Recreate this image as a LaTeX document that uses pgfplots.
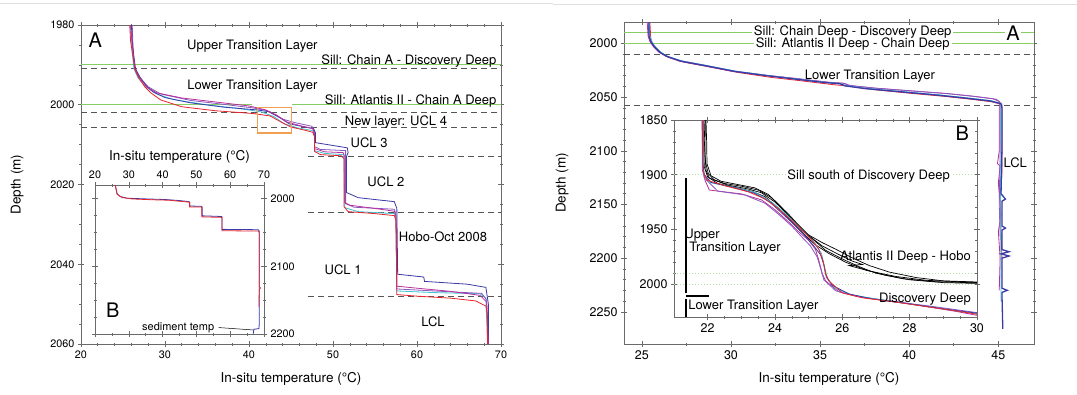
\documentclass[border=0pt]{standalone}
\usepackage{fontspec}
\setmainfont{TeX Gyre Heros}
\usepackage{pgfplots}
\pgfplotsset{compat=1.18}
\definecolor{cred}{HTML}{E8242C}
\definecolor{cblue}{HTML}{3A3AA8}
\definecolor{cmag}{HTML}{B8309C}
\definecolor{ccyan}{HTML}{40C4D4}
\definecolor{cpurp}{HTML}{8A58C0}
\definecolor{sillgreen}{HTML}{88CC66}
\definecolor{dotgreen}{HTML}{B8DDA0}
\definecolor{boxorange}{HTML}{F0A050}
\definecolor{framegray}{HTML}{6A6A6A}
\definecolor{dashgray}{HTML}{555555}
\newcommand\lbl{\fontsize{13}{15}\selectfont}
\newcommand\axl{\fontsize{13.5}{15}\selectfont}
\newcommand\bigfont{\fontsize{20}{22}\selectfont}
\pgfplotsset{
  base/.style={scale only axis, y dir=reverse,
    axis line style={framegray, line width=0.8pt},
    tick style={framegray, line width=0.6pt},
    tick align=center, major tick length=6pt, minor tick length=3pt,
    ticklabel style={font=\fontsize{10.8}{12}\selectfont},
    /pgf/number format/assume math mode=true,
    /pgf/number format/1000 sep={},
    label style={font=\axl},
    axis background/.style={fill=white},
  },
  bigticks/.style={ticklabel style={font=\fontsize{12.5}{14}\selectfont}},
  dsh/.style={dashgray, dash pattern=on 6pt off 4pt, line width=1pt},
  prof/.style={line width=0.8pt},
}
\begin{document}
\begin{tikzpicture}[x=1pt,y=1pt]
\useasboundingbox (0,0) rectangle (1077,394);
\draw[gray!25, line width=0.8pt] (0,391) -- (553,391);
\draw[gray!25, line width=0.8pt] (553,389.5) -- (1077,389.5);
% ================= LEFT PANEL A =================
\begin{axis}[base, at={(81pt,50pt)}, anchor=south west, width=420pt, height=319pt,
  xmin=20, xmax=70, ymin=1980, ymax=2060,
  xtick={20,30,...,70}, minor x tick num=4,
  ytick={1980,2000,...,2060}, minor y tick num=3,
  xlabel={In-situ temperature (°C)}, ylabel={Depth (m)},
  every axis x label/.style={at={(axis description cs:0.5,-0.11)}, anchor=center, font=\axl},
  every axis y label/.style={at={(axis description cs:-0.152,0.5)}, anchor=center, rotate=90, font=\axl},
]
\addplot[sillgreen, line width=1pt] coordinates {(20,1990) (70,1990)};
\addplot[sillgreen, line width=1pt] coordinates {(20,2000) (40.4,2000)};
\addplot[sillgreen, line width=1pt] coordinates {(45.1,2000) (70,2000)};
\addplot[dsh] coordinates {(20,1990.8) (70,1990.8)};
\addplot[dsh] coordinates {(20,2002) (70,2002)};
\addplot[dsh] coordinates {(20,2005.8) (70,2005.8)};
\addplot[dsh] coordinates {(47,2013) (70,2013)};
\addplot[dsh] coordinates {(47,2027) (70,2027)};
\addplot[dsh] coordinates {(47,2048) (70,2048)};
% cyan
\addplot[prof, ccyan] coordinates {(25.9,1980) (26.0,1985) (26.3,1991) (26.8,1993.3) (27.7,1995.5) (29,1997.3) (31,1998.7) (35,2000) (39,2001) (41.5,2001.8) (43,2003) (44.2,2004.8) (45.8,2005.8) (47.6,2006.5) (47.8,2008) (47.8,2011.5) (49,2012.2) (51.2,2012.5) (51.3,2013.5) (51.4,2025.8) (53,2026.8) (57.3,2027.3) (57.5,2028.5) (57.6,2046.7) (62,2047.1) (67.5,2047.4) (68.2,2048.5) (68.4,2060)};
% purple
\addplot[prof, cpurp] coordinates {(26.1,1980) (26.2,1986) (26.4,1991) (27.0,1993.2) (28,1995.5) (29.5,1997.3) (33,1998.9) (37,1999.9) (40.5,2000.8) (42,2001.4) (43,2002.5) (44,2003.6) (45.5,2004.5) (47.5,2005.4) (47.8,2007) (47.8,2010.5) (48.5,2011.2) (51.5,2011.5) (51.5,2013) (51.5,2024.8) (52.5,2025.7) (57.3,2026.2) (57.5,2027.5) (57.6,2046.2) (63,2046.8) (67.7,2047.3) (68.3,2049) (68.4,2060)};
% blue
\addplot[prof, cblue] coordinates {(26.0,1980) (26.1,1984) (26.3,1988) (26.5,1991) (27.0,1993) (27.8,1995.3) (28.6,1996.8) (30,1998.2) (33,1999.5) (37,2000.6) (41,2001.3) (42.5,2001.8) (43.5,2003) (44.8,2004.8) (46.5,2005.5) (47.7,2006) (47.9,2007) (47.9,2009.5) (51.7,2010.8) (51.8,2012) (51.6,2013) (51.6,2022) (53,2023.3) (57.3,2024.3) (57.6,2026) (57.7,2042.5) (60.8,2043.2) (60.9,2044.3) (66,2045) (68.2,2045.8) (68.5,2050) (68.5,2060)};
% magenta
\addplot[prof, cmag] coordinates {(25.9,1980) (26.1,1985) (26.4,1991) (26.9,1993) (27.8,1995.5) (29,1997) (32,1998.3) (36,1999.3) (40,2000.3) (42,2001.3) (43.3,2002.6) (44.5,2004.3) (46,2005.2) (47.6,2006) (47.8,2007.5) (47.8,2011) (49,2011.8) (51.2,2012) (51.4,2013) (51.4,2024.5) (52,2025.2) (55,2026) (57.3,2026.7) (57.5,2028) (57.6,2045.5) (60,2046) (64,2046.8) (67.5,2047.8) (68.3,2049.5) (68.5,2060)};
% red
\addplot[prof, cred] coordinates {(25.8,1980) (25.9,1984) (26.2,1988) (26.4,1991) (26.8,1993) (27.6,1995.5) (28.3,1997) (29.5,1998.8) (32,2000.5) (36,2001.5) (40.5,2002.2) (42.5,2002.8) (43.8,2004.3) (45,2005.6) (46.5,2006.3) (47.6,2006.9) (47.8,2008) (47.8,2011.7) (48.5,2012.5) (51.0,2012.8) (51.3,2013.5) (51.3,2025.5) (51.8,2026.8) (55,2027.3) (57.3,2027.8) (57.5,2029) (57.6,2047.6) (60,2048) (64,2048.5) (67,2049.2) (68.2,2050.5) (68.4,2053) (68.4,2060)};
\addplot[boxorange, line width=1.2pt] coordinates {(41,2000.6) (45.1,2000.6) (45.1,2007.1) (41,2007.1) (41,2000.6)};
\node[font=\bigfont] at (axis cs:21.7,1983.8) {A};
\node[font=\lbl] at (axis cs:40.4,1985.3) {Upper Transition Layer};
\node[font=\lbl, anchor=base east, inner sep=1pt] at (axis cs:69.6,1989.9) {Sill: Chain A - Discovery Deep};
\node[font=\lbl] at (axis cs:40.4,1995.3) {Lower Transition Layer};
\node[font=\lbl, anchor=base east, inner sep=1pt] at (axis cs:69.6,1999.9) {Sill: Atlantis II - Chain A Deep};
\node[font=\lbl] at (axis cs:57.5,2004.3) {New layer: UCL 4};
\node[font=\lbl] at (axis cs:54.3,2009.6) {UCL 3};
\node[font=\lbl] at (axis cs:56.3,2019.3) {UCL 2};
\node[font=\lbl] at (axis cs:63.1,2033.1) {Hobo-Oct 2008};
\node[font=\lbl] at (axis cs:51.2,2041.4) {UCL 1};
\node[font=\lbl] at (axis cs:61.9,2054.4) {LCL};
\end{axis}
% ================= LEFT INSET B =================
\begin{axis}[base, at={(95pt,60pt)}, anchor=south west, width=169pt, height=149pt,
  xmin=20, xmax=70, ymin=1980, ymax=2200,
  xtick={20,30,...,70}, minor x tick num=1,
  ytick={2000,2100,2200}, minor y tick num=3,
  xticklabel pos=upper, yticklabel pos=right,
  xlabel={In-situ temperature (°C)},
]
\addplot[prof, cblue] coordinates {(26,1980) (26.5,1993) (27.5,1997) (29.5,1999.5) (35,2000.5) (41,2001.5) (45,2003) (47.8,2004.5) (48,2005.5) (48,2011) (51.5,2011.5) (51.7,2012.5) (51.7,2025.5) (57.5,2026.5) (57.6,2027.5) (57.6,2045.5) (68.3,2046) (68.6,2048) (68.6,2185) (68.5,2192) (67,2193) (66.8,2200)};
\addplot[prof, cred] coordinates {(26,1980) (26.6,1994) (28,1998.5) (31,2000.6) (37,2001.8) (42,2002.5) (46,2004.5) (47.8,2005.3) (48,2006.5) (48,2012.3) (51.5,2012.6) (51.6,2013.5) (51.6,2027) (57.5,2027.8) (57.6,2028.5) (57.6,2047.5) (68.2,2048) (68.6,2050) (68.6,2130) (69.0,2132) (68.6,2134) (68.5,2160)};
\node[font=\bigfont] at (axis cs:25.3,2164.6) {B};
\node[font=\fontsize{11}{13}\selectfont] at (axis cs:44.6,2190.5) {sediment temp};
\draw[black, line width=0.5pt] (axis cs:56.6,2190.5) -- (axis cs:66.7,2194);
\end{axis}
% ================= RIGHT PANEL A =================
\begin{axis}[base, bigticks, at={(624pt,50pt)}, anchor=south west, width=410pt, height=322pt,
  xmin=24, xmax=47, ymin=1980, ymax=2280,
  xtick={25,30,...,45}, minor x tick num=1,
  ytick={2000,2050,...,2250}, minor y tick num=4,
  xlabel={In-situ temperature (°C)}, ylabel={Depth (m)},
  every axis x label/.style={at={(axis description cs:0.5,-0.109)}, anchor=center, font=\axl},
  every axis y label/.style={at={(axis description cs:-0.151,0.5)}, anchor=center, rotate=90, font=\axl},
]
\addplot[sillgreen, line width=1pt] coordinates {(24,1990) (47,1990)};
\addplot[sillgreen, line width=1pt] coordinates {(24,2000) (47,2000)};
\addplot[dsh] coordinates {(24,2010) (47,2010)};
\addplot[dsh] coordinates {(24,2058) (47,2058)};
\addplot[prof, cred] coordinates {(25.45,1980) (25.5,1995) (25.6,2000) (25.8,2004) (26.1,2009) (26.5,2013) (27.4,2017.5) (28.7,2021.5) (30.4,2027) (32.2,2031.5) (33.8,2034.5) (35.8,2038.5) (36.5,2039.5) (38,2043) (40,2046.3) (42,2049.3) (43.5,2052) (44.7,2054.5) (45.2,2057) (45.2,2120) (45.1,2150) (45.2,2200)};
\addplot[prof, cmag] coordinates {(25.3,1980) (25.35,1993) (25.45,1998) (25.65,2003) (25.95,2008) (26.35,2012) (27.1,2016.5) (28.4,2020.5) (30.1,2026) (31.9,2029.5) (33.6,2032.5) (35.4,2036) (36.3,2037) (36.6,2039) (38,2041.5) (40,2044) (42,2046.5) (43.5,2049) (44.7,2051.5) (45.05,2054) (45.05,2100) (44.95,2112) (45.1,2114) (45.0,2130) (45.15,2160) (45.0,2175) (45.1,2200) (45.05,2230)};
\addplot[prof, cpurp] coordinates {(25.35,1980) (25.4,1993) (25.5,1998) (25.7,2003) (26.0,2008) (26.4,2012) (27.2,2016.2) (28.5,2020.2) (30.2,2025.7) (32.0,2029.7) (33.7,2032.8) (35.5,2036.2) (36.4,2037.3) (36.7,2039.3) (38.2,2041.8) (40.2,2044.3) (42.2,2046.8) (43.7,2049.4) (44.9,2052) (45.1,2055) (45.1,2100) (45.05,2150) (45.1,2180)};
\addplot[prof, ccyan] coordinates {(25.4,1980) (25.45,1993) (25.55,1998) (25.75,2003) (26.05,2008) (26.45,2012) (27.25,2016.3) (28.55,2020.3) (30.25,2025.8) (32.05,2029.8) (33.55,2032.8) (35.35,2036.3) (36.15,2037.3) (36.45,2039.3) (37.6,2041.7) (39.6,2044.7) (41.6,2047.7) (43.3,2050.7) (44.6,2053.2) (45.1,2055.8) (45.15,2100) (45.1,2160) (45.15,2200) (45.15,2240)};
\addplot[line width=1.3pt, cblue] coordinates {(25.4,1980) (25.4,1993) (25.5,1998) (25.7,2003) (26.0,2008) (26.4,2012) (27.2,2016.5) (28.5,2020.5) (30.2,2026) (32.0,2030) (33.5,2033) (35.3,2036.5) (36.1,2037.5) (36.4,2039.5) (37.5,2042) (39.5,2045) (41.5,2048) (43.2,2051) (44.5,2053.5) (45.15,2056) (45.2,2060) (45.2,2100) (45.15,2140) (45.4,2145) (45.2,2147) (45.2,2170) (45.4,2172) (45.2,2174) (45.2,2192) (45.6,2194) (45.15,2196) (45.6,2198) (45.2,2200) (45.2,2228) (45.5,2230) (45.2,2232) (45.25,2266)};
\node[font=\lbl, fill=white, inner xsep=2pt, inner ysep=0pt] at (axis cs:36.83,1989.8) {Sill: Chain Deep - Discovery Deep};
\node[font=\lbl, fill=white, inner xsep=2pt, inner ysep=0pt] at (axis cs:36.83,2000.5) {Sill: Atlantis II Deep - Chain Deep};
\node[font=\bigfont, fill=white, inner sep=1pt] at (axis cs:45.83,1990.2) {A};
\node[font=\lbl] at (axis cs:37.8,2030.3) {Lower Transition Layer};
\node[font=\lbl] at (axis cs:45.95,2111.4) {LCL};
\end{axis}
% ================= RIGHT INSET B =================
\begin{axis}[base, bigticks, at={(674pt,77pt)}, anchor=south west, width=303pt, height=197pt,
  xmin=21, xmax=30, ymin=1850, ymax=2030,
  xtick={22,24,...,30}, minor x tick num=3,
  ytick={1850,1900,...,2000}, minor y tick num=4,
]
\addplot[dotgreen, dotted, line width=1pt] coordinates {(21,1900) (30,1900)};
\addplot[dotgreen, dotted, line width=1pt] coordinates {(21,1990) (30,1990)};
\addplot[dotgreen, dotted, line width=1pt] coordinates {(21,2000) (30,2000)};
\addplot[black, line width=2pt] coordinates {(21.35,1903) (21.35,2008)};
\addplot[black, line width=2pt] coordinates {(21.35,2011) (22.05,2011)};
\addplot[black, line width=2pt] coordinates {(21.35,2013.5) (21.35,2030)};
% black Atlantis II curves
\addplot[black, line width=0.7pt] coordinates {(21.92,1850) (21.9,1868) (21.93,1888) (22.02,1899) (22.2,1905) (22.6,1909.5) (23.2,1913) (23.6,1916.5) (24.0,1925) (24.3,1934) (24.6,1944) (24.9,1953) (25.2,1961) (25.5,1969) (26.0,1977) (26.5,1984) (27.0,1990) (27.8,1995) (28.8,1997.8) (30,1998.8)};
\addplot[black, line width=0.7pt] coordinates {(21.95,1850) (21.97,1870) (21.98,1890) (22.1,1901) (22.4,1906) (22.9,1909) (23.4,1912) (23.8,1918) (24.1,1927) (24.4,1936) (24.7,1946) (25.0,1955) (25.4,1962) (25.8,1968) (26.3,1976) (26.8,1983) (27.4,1989) (28.2,1994) (29.0,1997) (30,1998)};
\addplot[black, line width=0.7pt] coordinates {(21.88,1850) (21.88,1875) (21.9,1893) (22.0,1902) (22.3,1908) (22.8,1911.5) (23.3,1915) (23.7,1920) (24.0,1928) (24.35,1938) (24.65,1948) (24.95,1957) (25.2,1964) (25.6,1972) (26.1,1980) (26.7,1987) (27.3,1992) (28.0,1996) (29.0,1998.6) (30,1999.3)};
\addplot[black, line width=0.7pt] coordinates {(21.93,1850) (21.92,1880) (21.95,1896) (22.05,1903) (22.5,1908) (23.0,1910.5) (23.5,1914) (23.9,1921) (24.2,1930) (24.5,1941) (24.8,1951) (25.1,1958) (25.4,1965) (25.9,1973) (26.3,1979) (26.6,1982) (26.2,1983) (26.8,1988) (27.6,1993) (28.5,1996.5) (30,1998.5)};
% Discovery Deep curves
\addplot[prof, cmag] coordinates {(21.83,1850) (21.85,1880) (21.88,1898) (21.92,1905) (22.05,1914) (23.0,1917.5) (23.6,1923) (24.0,1932) (24.4,1943) (24.7,1952) (25.0,1960) (25.2,1968) (25.3,1978) (25.4,1990) (25.5,1997) (25.9,2007) (26.6,2012) (27.6,2016) (28.6,2021) (29.4,2025) (30,2028.5)};
\addplot[prof, cpurp] coordinates {(21.84,1850) (21.84,1895) (21.9,1903) (22.3,1915) (23.1,1918.5) (23.7,1926) (24.1,1936) (24.5,1947) (24.8,1957) (25.05,1965) (25.25,1975) (25.35,1985) (25.45,1996) (25.8,2006) (26.4,2011) (27.4,2015.5) (28.6,2020) (30,2026)};
\addplot[prof, ccyan] coordinates {(21.87,1850) (21.87,1885) (21.88,1899) (22.05,1907) (22.7,1911) (23.4,1916) (23.9,1925) (24.3,1935) (24.65,1946) (24.95,1955) (25.2,1963) (25.38,1972) (25.48,1985) (25.55,1995) (25.8,2004) (26.3,2010) (27.1,2014) (28.2,2019) (29.2,2023.5) (30,2027)};
\addplot[prof, cblue] coordinates {(21.86,1850) (21.86,1890) (21.9,1900) (22.1,1907) (22.8,1912) (23.4,1917) (23.85,1925) (24.2,1935) (24.55,1945) (24.9,1956) (25.15,1965) (25.35,1973) (25.45,1982) (25.52,1993) (25.7,2001) (26.2,2009) (26.9,2013.5) (28.0,2018) (29.0,2022.5) (30,2026.5)};
\addplot[prof, cred] coordinates {(21.85,1850) (21.85,1880) (21.86,1897) (21.98,1905) (22.5,1910) (23.2,1915.5) (23.7,1922) (24.1,1931) (24.5,1942) (24.85,1952) (25.1,1960) (25.3,1968) (25.42,1978) (25.5,1990) (25.6,1997) (26.0,2008) (26.6,2012.5) (27.5,2016) (28.5,2020.5) (29.3,2024) (30,2027.5)};
\node[font=\bigfont] at (axis cs:29.56,1861.9) {B};
\node[font=\lbl, fill=white, inner sep=1.5pt] at (axis cs:26.78,1901) {Sill south of Discovery Deep};
\node[font=\lbl, anchor=west, inner sep=0pt] at (axis cs:21.3,1955.1) {Upper};
\node[font=\lbl, anchor=west, inner sep=0pt] at (axis cs:21.45,1967) {Transition Layer};
\node[font=\lbl, anchor=east, inner sep=0pt] at (axis cs:29.82,1975.2) {Atlantis II Deep - Hobo};
\node[font=\lbl, anchor=east, inner sep=0pt] at (axis cs:29.82,2013.5) {Discovery Deep};
\node[font=\lbl, anchor=west, inner sep=0pt] at (axis cs:21.42,2020) {Lower Transition Layer};
\end{axis}
\end{tikzpicture}
\end{document}
